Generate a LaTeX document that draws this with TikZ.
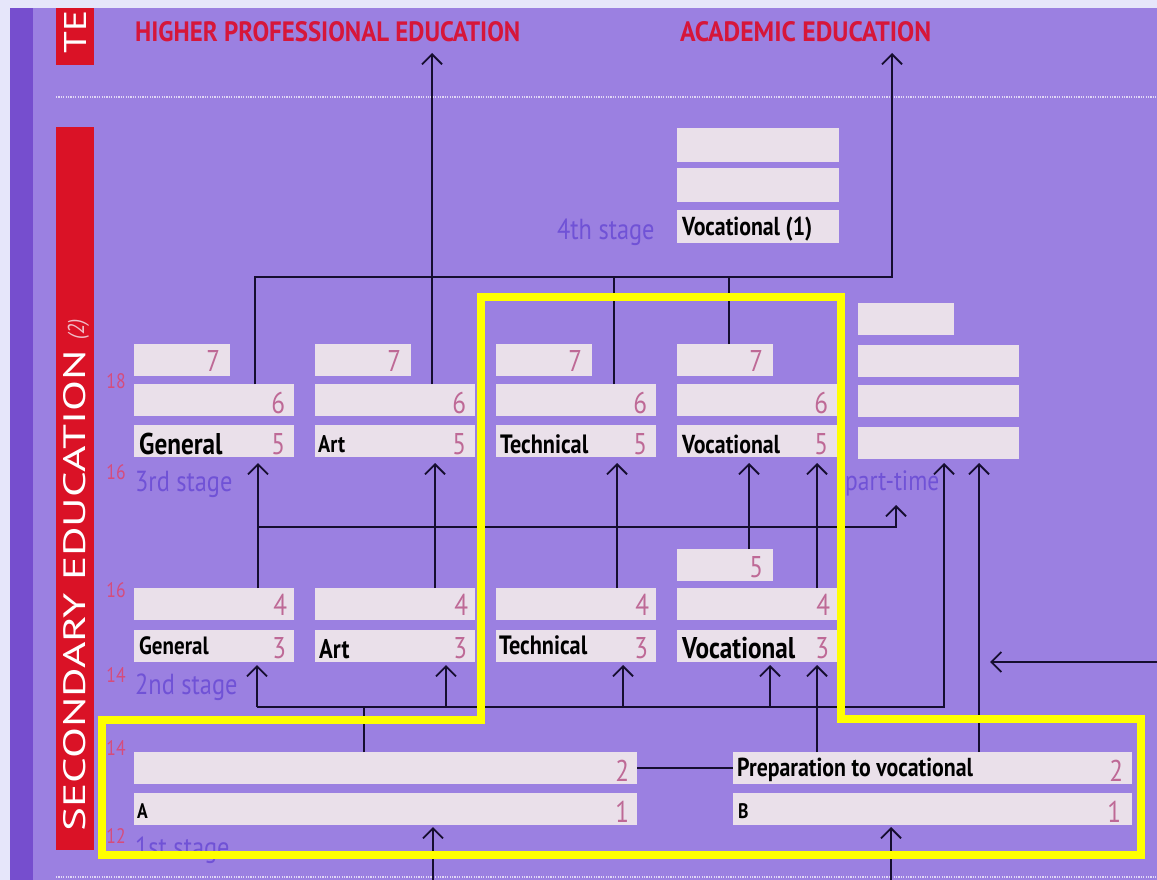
\documentclass[tikz,border=0pt]{standalone}
\usepackage{fontspec}
\setmainfont{PT Sans}[FakeStretch=0.84]
\usetikzlibrary{arrows.meta}
\definecolor{outerc}{RGB}{230,230,250}
\definecolor{stripec}{RGB}{118,78,206}
\definecolor{bgc}{RGB}{155,128,225}
\definecolor{redc}{RGB}{218,18,38}
\definecolor{titlec}{RGB}{214,22,58}
\definecolor{boxc}{RGB}{234,224,234}
\definecolor{numc}{RGB}{190,105,150}
\definecolor{stagec}{RGB}{112,82,214}
\definecolor{agec}{RGB}{214,76,124}
\definecolor{linec}{RGB}{22,14,48}
\definecolor{dotc}{RGB}{225,215,245}
\definecolor{notec}{RGB}{240,190,200}
\definecolor{hilite}{RGB}{255,255,0}
\begin{document}
\begin{tikzpicture}[x=1pt,y=-1pt,
  bx/.style={fill=boxc, draw=none, inner sep=0pt, anchor=north west, minimum height=32pt},
  wide/.style={bx, minimum width=160pt},
  short/.style={bx, minimum width=96pt},
  lab/.style={anchor=base west, inner sep=0pt, text=black, font=\fontsize{26}{26}\selectfont\bfseries},
  num/.style={anchor=base east, inner sep=0pt, text=numc, font=\fontsize{30}{30}\selectfont},
  stg/.style={anchor=base west, inner sep=0pt, text=stagec, font=\fontsize{29}{29}\selectfont},
  age/.style={anchor=center, inner sep=0pt, text=agec, font=\fontsize{21}{21}\selectfont},
  ln/.style={draw=linec, line width=1.8pt},
  arr/.style={ln, -{Straight Barb[length=10pt,width=20pt]}},
]
\useasboundingbox (0,0) rectangle (1157,880);
% background
\fill[outerc] (0,0) rectangle (1157,880);
\fill[stripec] (10,8) rectangle (33,880);
\fill[bgc] (33,8) rectangle (1157,880);
\fill[redc] (56,8) rectangle (94,65);
\fill[redc] (56,127) rectangle (94,850);
\draw[dotc, line width=1.4pt, dash pattern=on 1.2pt off 1.2pt] (56,97) -- (1157,97);
\draw[dotc, line width=1.4pt, dash pattern=on 1.2pt off 1.2pt] (56,877) -- (1157,877);

% side texts
\node[rotate=90, anchor=base west, inner sep=0pt, text=white] (te) at (86,54) {\resizebox{43pt}{22pt}{TE}};
\node[rotate=90, anchor=base west, inner sep=0pt, text=white] (sec) at (85,832) {\resizebox{482pt}{22pt}{SECONDARY EDUCATION}};
\node[rotate=90, anchor=base west, inner sep=0pt, text=notec, font=\fontsize{23}{23}\selectfont\itshape] (two) at (84,340) {(2)};

% titles
\node[anchor=base west, inner sep=0pt, text=titlec] (hpe) at (135,42) {\resizebox{385pt}{20pt}{\bfseries HIGHER PROFESSIONAL EDUCATION}};
\node[anchor=base west, inner sep=0pt, text=titlec] (acad) at (680,42) {\resizebox{251pt}{20pt}{\bfseries ACADEMIC EDUCATION}};

% 4th stage
\node[bx, minimum width=162pt, minimum height=34pt] (vfa) at (677,128) {};
\node[bx, minimum width=162pt, minimum height=34pt] (vfb) at (677,168) {};
\node[bx, minimum width=162pt, minimum height=33pt] (vfc) at (677,210) {};
\node[lab] (lvfc) at ([xshift=5pt,yshift=8pt]vfc.south west) {Vocational (1)};
\node[stg] (sfour) at (557,239) {4th stage};

% 3rd stage
\node[short] (gsev) at (134,344) {};
\node[wide] (gsix) at (134,384) {};
\node[wide] (gfiv) at (134,425) {};
\node[short] (asev) at (315,344) {};
\node[wide] (asix) at (315,384) {};
\node[wide] (afiv) at (315,425) {};
\node[short] (tsev) at (496,344) {};
\node[wide] (tsix) at (496,384) {};
\node[wide] (tfiv) at (496,425) {};
\node[short] (vsev) at (677,344) {};
\node[wide] (vsix) at (677,384) {};
\node[wide] (vfiv) at (677,425) {};
\node[short] (pa) at (858,303) {};
\node[wide, minimum width=161pt] (pb) at (858,345) {};
\node[wide, minimum width=161pt] (pc) at (858,385) {};
\node[wide, minimum width=161pt] (pd) at (858,427) {};
\node[short] (vsm) at (677,549) {};

\foreach \b in {gsev,asev,tsev,vsev}{\node[num] (n\b) at ([xshift=-10pt,yshift=5pt]\b.south east) {7};}
\foreach \b in {gsix,asix,tsix,vsix}{\node[num] (n\b) at ([xshift=-9pt,yshift=3pt]\b.south east) {6};}
\foreach \b in {gfiv,afiv,tfiv,vfiv}{\node[num] (n\b) at ([xshift=-9pt,yshift=3pt]\b.south east) {5};}
\node[num] (nvsm) at ([xshift=-10pt,yshift=4pt]vsm.south east) {5};
\node[lab, font=\fontsize{30}{30}\selectfont\bfseries] (lgfiv) at ([xshift=5pt,yshift=3pt]gfiv.south west) {General};
\node[lab, font=\fontsize{24}{24}\selectfont\bfseries] (lafiv) at ([xshift=3pt,yshift=5pt]afiv.south west) {Art};
\node[lab, font=\fontsize{26.5}{26}\selectfont\bfseries] (ltfiv) at ([xshift=4pt,yshift=4pt]tfiv.south west) {Technical};
\node[lab] (lvfiv) at ([xshift=5pt,yshift=4pt]vfiv.south west) {Vocational};
\node[stg] (sthree) at (135,491) {3rd stage};
\node[stg, font=\fontsize{28}{28}\selectfont] (spt) at (845,490) {part-time};

% 2nd stage
\node[wide] (gfour) at (134,588) {};
\node[wide] (gthr) at (134,630) {};
\node[wide] (afour) at (315,588) {};
\node[wide] (athr) at (315,630) {};
\node[wide] (tfour) at (496,588) {};
\node[wide] (tthr) at (496,630) {};
\node[wide] (vfour) at (677,588) {};
\node[wide] (vthr) at (677,630) {};
\foreach \b in {gfour,afour,tfour,vfour}{\node[num] (n\b) at ([xshift=-7pt,yshift=5pt]\b.south east) {4};}
\foreach \b in {gthr,athr,tthr,vthr}{\node[num] (n\b) at ([xshift=-8pt,yshift=4pt]\b.south east) {3};}
\node[lab, font=\fontsize{25}{25}\selectfont\bfseries] (lgthr) at ([xshift=5pt,yshift=8pt]gthr.south west) {General};
\node[lab, font=\fontsize{27}{27}\selectfont\bfseries] (lathr) at ([xshift=4pt,yshift=4pt]athr.south west) {Art};
\node[lab, font=\fontsize{26.5}{26}\selectfont\bfseries] (ltthr) at ([xshift=3pt,yshift=8pt]tthr.south west) {Technical};
\node[lab, font=\fontsize{30}{30}\selectfont\bfseries] (lvthr) at ([xshift=5pt,yshift=4pt]vthr.south west) {Vocational};
\node[stg] (stwo) at (135,694) {2nd stage};

% 1st stage
\node[bx, minimum width=503pt] (atwo) at (134,752) {};
\node[bx, minimum width=503pt] (aone) at (134,793) {};
\node[bx, minimum width=399pt] (btwo) at (733,752) {};
\node[bx, minimum width=399pt] (bone) at (733,793) {};
\node[num] (natwo) at ([xshift=-8pt,yshift=3pt]atwo.south east) {2};
\node[num] (naone) at ([xshift=-8pt,yshift=3pt]aone.south east) {1};
\node[num] (nbtwo) at ([xshift=-9pt,yshift=3pt]btwo.south east) {2};
\node[num] (nbone) at ([xshift=-11pt,yshift=3pt]bone.south east) {1};
\node[lab, font=\fontsize{21}{21}\selectfont\bfseries] (laone) at ([xshift=3pt,yshift=7pt]aone.south west) {A};
\node[lab, font=\fontsize{21}{21}\selectfont\bfseries] (lbone) at ([xshift=5pt,yshift=7pt]bone.south west) {B};
\node[lab] (lbtwo) at ([xshift=4pt,yshift=8pt]btwo.south west) {Preparation to vocational};
\node[stg] (sone) at (135,857) {1st stage};

% ages
\node[age] (agea) at (116,381) {18};
\node[age] (ageb) at (116,472) {16};
\node[age] (agec) at (116,590) {16};
\node[age] (aged) at (116,675) {14};
\node[age] (agee) at (116,748) {14};
\node[age] (agef) at (116,836) {12};

% levels
\coordinate (Ltop) at (0,53);
\coordinate (Lac) at (0,277);
\coordinate (Lthree) at (0,463);
\coordinate (Lpt) at (0,505);
\coordinate (Lmid) at (0,527);
\coordinate (Ltwo) at (0,665);
\coordinate (Lbus) at (0,707);
\coordinate (Lone) at (0,827);
\coordinate (Lbot) at (0,880);
\coordinate (rin) at (1157,662);
\coordinate (rtip) at (990,662);

% connectors to tertiary
\draw[arr] (asix.north -| 432,0) -- (Ltop -| 432,0);
\draw[arr] (gsix.north -| 255,0) |- (Lac -| 892,0) -- (Ltop -| 892,0);
\draw[ln] (tsix.north -| 614,0) -- (Lac -| 614,0);
\draw[ln] (vsev.north -| 729,0) -- (Lac -| 729,0);

% 2nd -> 3rd
\draw[arr] (gfour.north -| 258,0) -- (Lthree -| 258,0);
\draw[arr] (Lmid -| 258,0) -| (Lpt -| 896,0);
\draw[arr] (afour.north -| 435,0) -- (Lthree -| 435,0);
\draw[arr] (tfour.north -| 617,0) -- (Lthree -| 617,0);
\draw[arr] (vfour.north -| 817,0) -- (Lthree -| 817,0);
\draw[arr] (vsm.north -| 749,0) -- (Lthree -| 749,0);

% 1st -> 2nd
\draw[ln] (atwo.north -| 364,0) -- (Lbus -| 364,0);
\draw[arr] (Lbus -| 257,0) -- (Ltwo -| 257,0);
\draw[arr] (Lbus -| 257,0) -| (Lthree -| 944,0);
\draw[arr] (Lbus -| 446,0) -- (Ltwo -| 446,0);
\draw[arr] (Lbus -| 623,0) -- (Ltwo -| 623,0);
\draw[arr] (Lbus -| 770,0) -- (Ltwo -| 770,0);
\draw[arr] (btwo.north -| 817,0) -- (Ltwo -| 817,0);
\draw[arr] (btwo.north -| 979,0) -- (Lthree -| 979,0);
\draw[arr] (rin) -- (rtip);
\draw[ln] (atwo.east) -- (btwo.west);
\draw[arr] (Lbot -| 433,0) -- (Lone -| 433,0);
\draw[arr] (Lbot -| 891,0) -- (Lone -| 891,0);

% highlight frame
\draw[hilite, line width=8pt, line join=miter] (481,297) -- (841,297) -- (841,719) -- (1141,719) -- (1141,855) -- (102,855) -- (102,720) -- (481,720) -- cycle;
\end{tikzpicture}
\end{document}
